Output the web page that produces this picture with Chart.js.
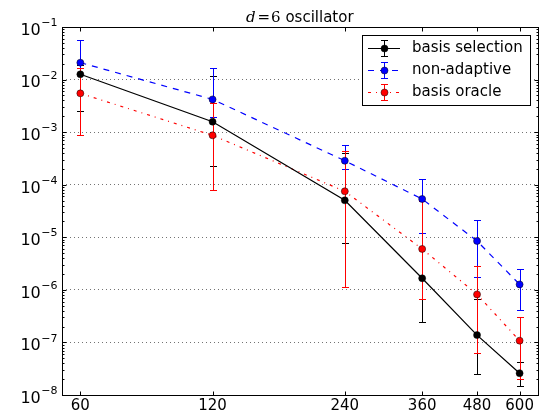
<!DOCTYPE html>
<html>
<head>
<meta charset="utf-8">
<script src="https://cdn.jsdelivr.net/npm/chart.js@4.4.1/dist/chart.umd.min.js"></script>
<style>
  html, body { margin: 0; padding: 0; background: #fff; }
  canvas { display: block; }
</style>
</head>
<body>
<canvas id="c" width="542" height="412"></canvas>
<script>
const xVals = [60, 120, 240, 360, 480, 600];
const xTicks = [60, 120, 240, 360, 480, 600];
const yTicks = [1e-8, 1e-7, 1e-6, 1e-5, 1e-4, 1e-3, 1e-2, 1e-1];

const selMean = [1.26e-2, 1.58e-3, 5.05e-5, 1.66e-6, 1.38e-7, 2.6e-8];
const selLow  = [2.5e-3, 2.27e-4, 7.7e-6, 2.5e-7, 2.5e-8, 1.48e-8];
const selHigh = [1.9e-2, 1.15e-2, 4.0e-4, 1.2e-5, 6.6e-7, 4.2e-8];

const nonMean = [2.1e-2, 4.2e-3, 2.86e-4, 5.35e-5, 8.5e-6, 1.27e-6];
const nonLow  = [1.65e-2, 1.97e-3, 1.96e-4, 1.19e-5, 1.78e-6, 4.1e-7];
const nonHigh = [5.66e-2, 1.68e-2, 5.6e-4, 1.26e-4, 2.13e-5, 2.5e-6];

const oraMean = [5.47e-3, 8.7e-4, 7.5e-5, 6.0e-6, 8.2e-7, 1.08e-7];
const oraLow  = [8.7e-4, 7.8e-5, 1.12e-6, 6.7e-7, 6.2e-8, 2.0e-8];
const oraHigh = [1.64e-2, 3.6e-3, 4.3e-4, 5.0e-5, 2.9e-6, 3.0e-7];

const names = ['basis selection', 'non-adaptive', 'basis oracle'];
const colors = ['#000000', '#0000ff', '#ff0000'];
const dashes = [[], [6, 6], [3, 5, 1, 5]];
const means = [selMean, nonMean, oraMean];
const lows = [selLow, nonLow, oraLow];
const highs = [selHigh, nonHigh, oraHigh];

const FONT = '"DejaVu Sans", sans-serif';

function toPoints(arr) {
    return xVals.map((x, i) => ({ x: x, y: arr[i] }));
}

function drawCaps(ctx, x, y1, y2, color) {
    ctx.strokeStyle = color;
    ctx.lineWidth = 1;
    ctx.setLineDash([]);
    ctx.beginPath();
    ctx.moveTo(x, y1); ctx.lineTo(x, y2);
    ctx.moveTo(x - 3.5, y1); ctx.lineTo(x + 3.5, y1);
    ctx.moveTo(x - 3.5, y2); ctx.lineTo(x + 3.5, y2);
    ctx.stroke();
}

const errorBars = {
    id: 'errorBars',
    beforeDatasetsDraw(chart) {
        const ctx = chart.ctx, xs = chart.scales.x, ys = chart.scales.y;
        ctx.save();
        for (let s = 0; s < 3; s++) {
            for (let i = 0; i < xVals.length; i++) {
                const px = Math.round(xs.getPixelForValue(xVals[i])) + 0.5;
                const top = Math.round(ys.getPixelForValue(highs[s][i])) + 0.5;
                const bot = Math.round(ys.getPixelForValue(lows[s][i])) + 0.5;
                drawCaps(ctx, px, top, bot, colors[s]);
            }
        }
        ctx.restore();
    }
};

const frame = {
    id: 'frame',
    afterDatasetsDraw(chart) {
        const ctx = chart.ctx, a = chart.chartArea;
        const xs = chart.scales.x, ys = chart.scales.y;
        const L = Math.round(a.left) + 0.5, R = Math.round(a.right) + 0.5;
        const T = Math.round(a.top) + 0.5, B = Math.round(a.bottom) + 0.5;
        ctx.save();
        ctx.setLineDash([]);
        ctx.strokeStyle = '#000';
        ctx.lineWidth = 1;
        ctx.beginPath();
        // y ticks, major and minor, on both sides
        for (let e = -8; e <= -1; e++) {
            for (let m = 1; m <= 9; m++) {
                const v = m * Math.pow(10, e);
                if (v > 0.1000001) break;
                const py = Math.round(ys.getPixelForValue(v)) + 0.5;
                const len = m === 1 ? 4 : 2;
                ctx.moveTo(L, py); ctx.lineTo(L + len, py);
                ctx.moveTo(R, py); ctx.lineTo(R - len, py);
            }
        }
        xTicks.forEach(v => {
            const px = Math.round(xs.getPixelForValue(v)) + 0.5;
            ctx.moveTo(px, B); ctx.lineTo(px, B - 4);
            ctx.moveTo(px, T); ctx.lineTo(px, T + 4);
        });
        ctx.stroke();
        ctx.strokeRect(L, T, R - L, B - T);

        // y tick labels: 10 with raised exponent
        ctx.fillStyle = '#000';
        ctx.textAlign = 'right';
        ctx.textBaseline = 'alphabetic';
        yTicks.forEach(v => {
            const py = ys.getPixelForValue(v);
            const ex = '\u2212' + String(-Math.round(Math.log10(v)));
            ctx.font = '11px ' + FONT;
            const we = ctx.measureText(ex).width;
            ctx.fillText(ex, 57.5, py - 0.8);
            ctx.font = '16px ' + FONT;
            ctx.fillText('10', 57.5 - we - 0.5, py + 7.8);
        });

        // title
        const cx = (a.left + a.right) / 2, by = 22;
        const f1 = 'italic 15px "DejaVu Serif", serif';
        const f2 = '15px "DejaVu Serif", serif';
        const f3 = '15px ' + FONT;
        ctx.textAlign = 'left';
        ctx.font = f1; const w1 = ctx.measureText('d').width + 2;
        ctx.font = f2; const w2 = ctx.measureText('=').width + 1;
        const w2b = ctx.measureText('6').width;
        ctx.font = f3; const w3 = ctx.measureText(' oscillator').width;
        let tx = cx - (w1 + w2 + w2b + w3) / 2;
        ctx.font = f1; ctx.fillText('d', tx, by); tx += w1;
        ctx.font = f2; ctx.fillText('=', tx, by); tx += w2;
        ctx.fillText('6', tx, by); tx += w2b;
        ctx.font = f3; ctx.fillText(' oscillator', tx, by);

        // legend
        ctx.fillStyle = '#fff';
        ctx.fillRect(362.5, 35.5, 168, 70);
        ctx.strokeStyle = '#000';
        ctx.strokeRect(362.5, 35.5, 168, 70);
        ctx.font = '15px ' + FONT;
        ctx.textBaseline = 'middle';
        for (let s = 0; s < 3; s++) {
            const y = 48.5 + s * 22;
            drawCaps(ctx, 384.5, y - 8, y + 8, colors[s]);
            ctx.setLineDash(dashes[s]);
            ctx.beginPath();
            ctx.moveTo(368, y); ctx.lineTo(400, y);
            ctx.stroke();
            ctx.setLineDash([]);
            ctx.beginPath();
            ctx.arc(384.5, y, 3.5, 0, Math.PI * 2);
            ctx.fillStyle = colors[s];
            ctx.fill();
            ctx.lineWidth = 0.5;
            ctx.strokeStyle = '#000';
            ctx.stroke();
            ctx.lineWidth = 1;
            ctx.fillStyle = '#000';
            ctx.fillText(names[s], 412, y);
        }
        ctx.restore();
    }
};

new Chart(document.getElementById('c'), {
    type: 'line',
    data: {
        datasets: names.map((n, s) => ({
            label: n,
            data: toPoints(means[s]),
            borderColor: colors[s],
            borderWidth: 1.2,
            borderDash: dashes[s],
            pointRadius: 3.5,
            pointBackgroundColor: colors[s],
            pointBorderColor: '#000',
            pointBorderWidth: 0.5,
            tension: 0,
            fill: false
        }))
    },
    options: {
        responsive: false,
        animation: false,
        devicePixelRatio: 1,
        layout: { padding: { top: 27, right: 4, left: 0, bottom: 0 } },
        plugins: {
            legend: { display: false },
            title: { display: false },
            tooltip: { enabled: false }
        },
        scales: {
            x: {
                type: 'logarithmic',
                min: 54.5,
                max: 659,
                afterBuildTicks: scale => { scale.ticks = xTicks.map(v => ({ value: v })); },
                afterFit: scale => { scale.height = 17; },
                grid: { display: false, drawTicks: false },
                border: { display: false },
                ticks: {
                    padding: 2,
                    color: '#000',
                    font: { family: FONT, size: 15 },
                    maxRotation: 0,
                    autoSkip: false,
                    callback: v => String(v)
                }
            },
            y: {
                type: 'logarithmic',
                min: 1e-8,
                max: 1e-1,
                afterBuildTicks: scale => { scale.ticks = yTicks.map(v => ({ value: v })); },
                afterFit: scale => { scale.width = 62; },
                grid: { color: 'rgba(0,0,0,0.55)', lineWidth: 1, drawTicks: false },
                border: { display: false, dash: [1, 3] },
                ticks: { display: false }
            }
        }
    },
    plugins: [errorBars, frame]
});
</script>
</body>
</html>
